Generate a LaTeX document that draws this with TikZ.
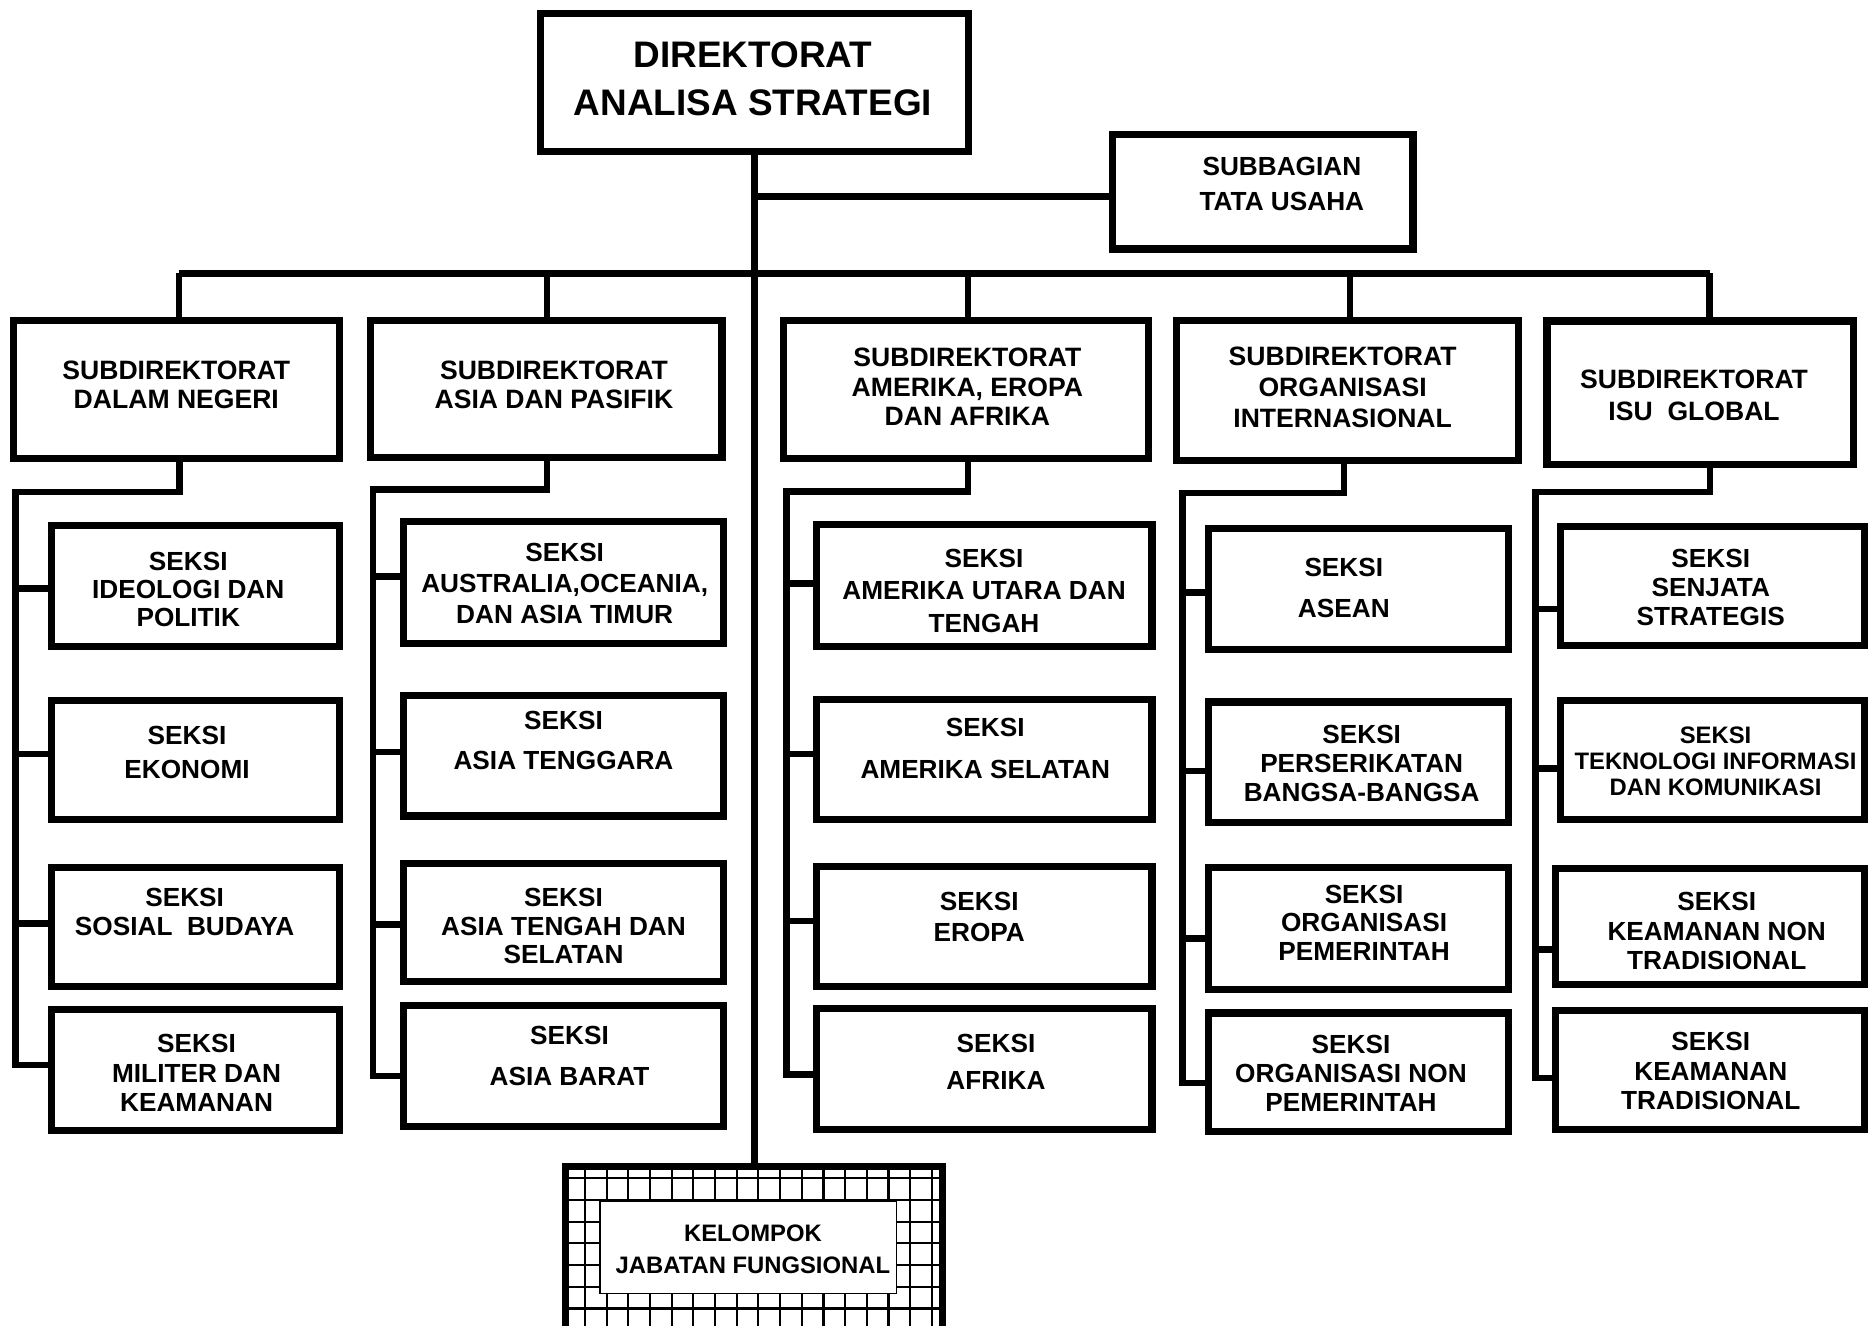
\documentclass[tikz,border=0pt]{standalone}
\usepackage{fontspec}
\setmainfont{Liberation Sans}
\usetikzlibrary{fit}
\tikzset{
  box/.style={draw, line width=6pt, inner sep=0pt},
  conn/.style={draw, line width=5.5pt},
  lbl/.style 2 args={align=center, inner sep=0pt, font=\bfseries\fontsize{#1}{#2}\selectfont},
  gridline/.style={line width=1.8pt},
  thinbox/.style={draw, line width=1pt, fill=white, inner sep=0pt},
}
\begin{document}
\begin{tikzpicture}[x=1pt,y=-1pt]
\useasboundingbox (0,0) rectangle (1568,1113);
\clip (0,0) rectangle (1568,1113);

% ---------- hatched background of the functional group box
\begin{scope}
  \clip (475,979.5) rectangle (791,1150);
  \foreach \i in {1,...,17} \draw[gridline] (472.8+18.2*\i,970) -- (472.8+18.2*\i,1150);
  \foreach \j in {0,...,9} \draw[gridline] (470,989.1+18.2*\j) -- (800,989.1+18.2*\j);
\end{scope}

% ---------- boxes
\node[box, fit={(454,11) (813,127)}] (top) {};
\node[box, fit={(934,113) (1186,209)}] (sub) {};

\node[box, fit={(11.5,269) (285,385)}] (S1) {};
\node[box, fit={(311,269) (606,384)}] (S2) {};
\node[box, fit={(658,269) (964,385)}] (S3) {};
\node[box, fit={(987.4,268.8) (1274.9,386.8)}] (S4) {};
\node[box, fit={(1298.5,269.4) (1556,390)}] (S5) {};

\node[box, fit={(43,441.3) (285,542.6)}] (A1) {};
\node[box, fit={(43,588) (285,688)}] (A2) {};
\node[box, fit={(43,728) (285,828)}] (A3) {};
\node[box, fit={(43,847.5) (285,949)}] (A4) {};

\node[box, fit={(338.5,438.1) (607.3,539.8)}] (B1) {};
\node[box, fit={(338.5,583.6) (607.3,685)}] (B2) {};
\node[box, fit={(338.5,725) (607.3,824)}] (B3) {};
\node[box, fit={(338.5,843.8) (607.3,945.6)}] (B4) {};

\node[box, fit={(685.5,440) (967,543)}] (C1) {};
\node[box, fit={(685.5,587) (967,688)}] (C2) {};
\node[box, fit={(685.5,727) (967,828)}] (C3) {};
\node[box, fit={(685.5,846.6) (967,948.3)}] (C4) {};

\node[box, fit={(1014.5,443.7) (1266,544.9)}] (D1) {};
\node[box, fit={(1014.5,589.2) (1266,690.4)}] (D2) {};
\node[box, fit={(1014.5,728.3) (1266,830.3)}] (D3) {};
\node[box, fit={(1014.5,850.3) (1266,949.7)}] (D4) {};

\node[box, fit={(1309.7,441.7) (1565,542)}] (E1) {};
\node[box, fit={(1309.7,587.8) (1565,688)}] (E2) {};
\node[box, fit={(1305.5,729) (1565,826.6)}] (E3) {};
\node[box, fit={(1305.5,848) (1565,948)}] (E4) {};

\node[box, fit={(475,979.5) (791,1150)}] (kjf) {};
\node[thinbox, fit={(503.6,1008.7) (752.7,1085.6)}] (kjfin) {};

% ---------- junction points
\coordinate (sb) at (634,165);
\coordinate (bus) at (634,229.5);
\coordinate (b1) at (150.4,229.5);
\coordinate (b2) at (459,229.5);
\coordinate (b3) at (812.6,229.5);
\coordinate (b4) at (1133,229.5);
\coordinate (b5) at (1435,229.5);

\coordinate (t1) at (150.7,413);
\coordinate (t2) at (459,411);
\coordinate (t3) at (812.6,412.7);
\coordinate (t4) at (1128.2,414);
\coordinate (t5) at (1435.4,413);

\coordinate (q1) at (13,894);
\coordinate (q2) at (313,903);
\coordinate (q3) at (660,901.7);
\coordinate (q4) at (992.6,909);
\coordinate (q5) at (1289,905);

\coordinate (a1s) at (13,494);    \coordinate (a2s) at (13,633);    \coordinate (a3s) at (13,775);
\coordinate (b1s) at (313,484);   \coordinate (b2s) at (313,631.4); \coordinate (b3s) at (313,776);
\coordinate (c1s) at (660,490);   \coordinate (c2s) at (660,633);   \coordinate (c3s) at (660,773);
\coordinate (d1s) at (992.6,497.3); \coordinate (d2s) at (992.6,647); \coordinate (d3s) at (992.6,787.7);
\coordinate (e1s) at (1289,511.3); \coordinate (e2s) at (1289,645.2); \coordinate (e3s) at (1289,796.8);

% ---------- trunk, staff branch and main bus
\draw[conn] (top.south) -- (top.south |- kjf.north);
\draw[conn] (sb) -- (sb -| sub.west);
\draw[conn] (b1) -- (b5);
\draw[conn] (b1) -- (b1 |- S1.north);
\draw[conn] (b2) -- (b2 |- S2.north);
\draw[conn] (b3) -- (b3 |- S3.north);
\draw[conn] (b4) -- (b4 |- S4.north);
\draw[conn] (b5) -- (b5 |- S5.north);

% ---------- section rails
\draw[conn] (t1 |- S1.south) -- (t1) -| (q1) -- (q1 -| A4.west);
\draw[conn] (t2 |- S2.south) -- (t2) -| (q2) -- (q2 -| B4.west);
\draw[conn] (t3 |- S3.south) -- (t3) -| (q3) -- (q3 -| C4.west);
\draw[conn] (t4 |- S4.south) -- (t4) -| (q4) -- (q4 -| D4.west);
\draw[conn] (t5 |- S5.south) -- (t5) -| (q5) -- (q5 -| E4.west);

\draw[conn] (a1s) -- (a1s -| A1.west);
\draw[conn] (a2s) -- (a2s -| A2.west);
\draw[conn] (a3s) -- (a3s -| A3.west);
\draw[conn] (b1s) -- (b1s -| B1.west);
\draw[conn] (b2s) -- (b2s -| B2.west);
\draw[conn] (b3s) -- (b3s -| B3.west);
\draw[conn] (c1s) -- (c1s -| C1.west);
\draw[conn] (c2s) -- (c2s -| C2.west);
\draw[conn] (c3s) -- (c3s -| C3.west);
\draw[conn] (d1s) -- (d1s -| D1.west);
\draw[conn] (d2s) -- (d2s -| D2.west);
\draw[conn] (d3s) -- (d3s -| D3.west);
\draw[conn] (e1s) -- (e1s -| E1.west);
\draw[conn] (e2s) -- (e2s -| E2.west);
\draw[conn] (e3s) -- (e3s -| E3.west);

% ---------- labels
\node[lbl={31}{40.5}] (topt) at (632,66.3) {DIREKTORAT\\ANALISA STRATEGI};
\node[lbl={22}{29.6}] (subt) at (1076,154.4) {SUBBAGIAN\\TATA USAHA};

\node[lbl={22.3}{24}] (S1t) at (148,323) {SUBDIREKTORAT\\DALAM NEGERI};
\node[lbl={22.3}{24}] (S2t) at (465,323) {SUBDIREKTORAT\\ASIA DAN PASIFIK};
\node[lbl={22.3}{24.75}] (S3t) at (812,324.8) {SUBDIREKTORAT\\AMERIKA, EROPA\\DAN AFRIKA};
\node[lbl={22.3}{25.9}] (S4t) at (1127,325) {SUBDIREKTORAT\\ORGANISASI\\INTERNASIONAL};
\node[lbl={22.3}{26.6}] (S5t) at (1422,331.6) {SUBDIREKTORAT\\ISU\ \ GLOBAL};

\node[lbl={22}{23.35}] (A1t) at (158,494.9) {SEKSI\\IDEOLOGI DAN\\POLITIK};
\node[lbl={22}{29}] (A2t) at (157,631.5) {SEKSI\\EKONOMI};
\node[lbl={22}{25}] (A3t) at (155,765.5) {SEKSI\\SOSIAL\ \ BUDAYA};
\node[lbl={22}{24.85}] (A4t) at (165,900.8) {SEKSI\\MILITER DAN\\KEAMANAN};

\node[lbl={22}{26.3}] (B1t) at (474,489.7) {SEKSI\\AUSTRALIA,OCEANIA,\\DAN ASIA TIMUR};
\node[lbl={22}{33.6}] (B2t) at (473,621.9) {SEKSI\\ASIA TENGGARA};
\node[lbl={22}{24}] (B3t) at (473,777.3) {SEKSI\\ASIA TENGAH DAN\\SELATAN};
\node[lbl={22}{35}] (B4t) at (478,886.3) {SEKSI\\ASIA BARAT};

\node[lbl={22}{27}] (C1t) at (826,496) {SEKSI\\AMERIKA UTARA DAN\\TENGAH};
\node[lbl={22}{35}] (C2t) at (827,628.5) {SEKSI\\AMERIKA SELATAN};
\node[lbl={22}{26}] (C3t) at (822,770) {SEKSI\\EROPA};
\node[lbl={22}{31.5}] (C4t) at (836,891.5) {SEKSI\\AFRIKA};

\node[lbl={22}{34.2}] (D1t) at (1128,493.8) {SEKSI\\ASEAN};
\node[lbl={22}{24.45}] (D2t) at (1143,640.8) {SEKSI\\PERSERIKATAN\\BANGSA-BANGSA};
\node[lbl={22}{23.8}] (D3t) at (1145,774.4) {SEKSI\\ORGANISASI\\PEMERINTAH};
\node[lbl={22}{24.5}] (D4t) at (1134,901) {SEKSI\\ORGANISASI NON\\PEMERINTAH};

\node[lbl={22}{24.15}] (E1t) at (1436,493) {SEKSI\\SENJATA\\STRATEGIS};
\node[lbl={20}{21.7}] (E2t) at (1440,639.2) {SEKSI\\TEKNOLOGI INFORMASI\\DAN KOMUNIKASI};
\node[lbl={22}{24.5}] (E3t) at (1441,781.5) {SEKSI\\KEAMANAN NON\\TRADISIONAL};
\node[lbl={22}{24.5}] (E4t) at (1436,899) {SEKSI\\KEAMANAN\\TRADISIONAL};

\node[lbl={20}{27}] (kjft) at (632,1048.5) {KELOMPOK\\JABATAN FUNGSIONAL};
\end{tikzpicture}
\end{document}
